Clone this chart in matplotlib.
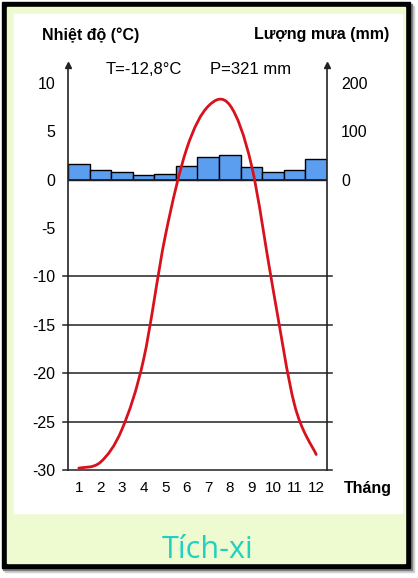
import numpy as np
import matplotlib
matplotlib.use('Agg')
import matplotlib.pyplot as plt
from matplotlib.patches import Rectangle, PathPatch
from matplotlib.path import Path

plt.rcParams['font.family'] = ['Liberation Sans', 'DejaVu Sans']
plt.rcParams['axes.unicode_minus'] = False

# data
months = np.arange(1, 13)
month_labels = [str(m) for m in months]
temp = [-29.8, -29.2, -25.8, -18.6, -5.9, 3.2, 7.6, 7.7, 1.5, -11.3, -23.3, -28.4]
rain = [32, 21, 15, 10, 12, 28, 46, 52, 27, 15, 20, 43]
temp_ticks = [10, 5, 0, -5, -10, -15, -20, -25, -30]
rain_ticks = [200, 100, 0]
grid_levels = [-10, -15, -20, -25, -30]

W, H = 418, 578
fig = plt.figure(figsize=(W / 100, H / 100), dpi=100)


def px_rect(x0, y0, x1, y1, **kw):
    # rectangle given in pixel coords (origin top-left)
    r = Rectangle((x0 / W, 1 - y1 / H), (x1 - x0) / W, (y1 - y0) / H,
                  transform=fig.transFigure, **kw)
    fig.patches.append(r)


def px_text(x, y, s, **kw):
    fig.text(x / W, 1 - y / H, s, **kw)


# frame, shadow and panels
px_rect(5, 6, 414, 572, color='#d0d0d0', zorder=0)
px_rect(3, 4, 412, 570, color='#808080', zorder=0)
px_rect(2, 2, 410, 568, color='black', zorder=0)
px_rect(7, 7, 405, 563, color='#eefbd0', zorder=0)
px_rect(14, 14, 402, 513, color='white', zorder=0)

# axes: precipitation underneath, temperature on top
box = [68 / W, (H - 470) / H, 259 / W, 405 / H]
ax2 = fig.add_axes(box, zorder=1)
ax = fig.add_axes(box, zorder=2)
ax.patch.set_visible(False)
ax2.patch.set_visible(False)

tmin, tmax = -30, 11.85
ax.set_ylim(tmin, tmax)
ax2.set_ylim(tmin * 20, tmax * 20)
for a in (ax, ax2):
    a.set_xlim(0.5, 12.5)
    for s in a.spines.values():
        s.set_visible(False)

ax2.bar(months, rain, width=1.0, color='#5b9def', edgecolor='black', linewidth=1.0)
ax2.set_yticks(rain_ticks)
ax2.yaxis.tick_right()
ax2.tick_params(axis='y', length=0, pad=10, labelsize=11.5)
ax2.set_xticks([])

# zero line and grid lines
ax.axhline(0, color='#222222', lw=1.3, zorder=3)
for g in grid_levels:
    ax.plot([0.25, 12.75], [g, g], color='#222222', lw=1.1, clip_on=False, zorder=1)

# vertical axes with arrows
for xa in (0, 1):
    ax.plot([xa, xa], [0, 1], color='#222222', lw=1.2, transform=ax.transAxes,
            clip_on=False, zorder=4)
    ax.plot(xa, 1, marker='^', color='#222222', markersize=4, transform=ax.transAxes,
            clip_on=False, zorder=4)

# smooth temperature curve (Catmull-Rom through monthly values)
pts = np.column_stack([months, temp]).astype(float)
ext = np.vstack([pts[0], pts, pts[-1]])
verts = [pts[0]]
codes = [Path.MOVETO]
for i in range(1, len(ext) - 2):
    p0, p1, p2, p3 = ext[i - 1], ext[i], ext[i + 1], ext[i + 2]
    verts += [p1 + (p2 - p0) / 6, p2 - (p3 - p1) / 6, p2]
    codes += [Path.CURVE4] * 3
ax.add_patch(PathPatch(Path(verts, codes), fill=False, edgecolor='#d8121c', lw=2.0,
                       zorder=5, capstyle='round'))

ax.set_yticks(temp_ticks)
ax.set_xticks(months)
ax.set_xticklabels(month_labels)
ax.tick_params(axis='y', length=0, pad=9, labelsize=11.5)
ax.tick_params(axis='x', length=0, pad=8, labelsize=11)

# texts
px_text(91, 35, 'Nhiệt độ (°C)', ha='center', va='center', fontsize=11.5, fontweight='bold')
px_text(322, 35, 'Lượng mưa (mm)', ha='center', va='center', fontsize=11.5, fontweight='bold')
px_text(144, 70, 'T=-12,8°C', ha='center', va='center', fontsize=12)
px_text(251, 70, 'P=321 mm', ha='center', va='center', fontsize=12)
px_text(368, 488, 'Tháng', ha='center', va='center', fontsize=11.5, fontweight='bold')
px_text(208, 558, 'Tích-xi', ha='center', va='baseline', fontsize=22,
        color='#22d0c0', family=['Open Sans', 'DejaVu Sans'])

fig.savefig('out.png', dpi=100)
